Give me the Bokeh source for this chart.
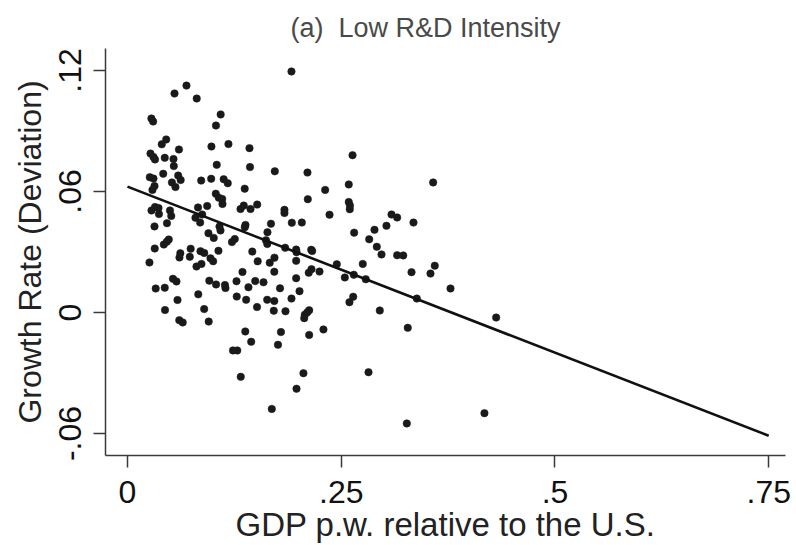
from bokeh.plotting import figure
from bokeh.models import FixedTicker, Range1d, ColumnDataSource
from bokeh.embed import file_html
from bokeh.resources import INLINE

# GDP per worker relative to the U.S. (x) and growth-rate deviation (y)
gdp_rel = [
    0.069, 0.055, 0.081, 0.028, 0.030, 0.109, 0.1035, 0.0453, 0.0401, 0.0602,
    0.0982, 0.1181, 0.1427, 0.0269, 0.0304, 0.0322, 0.0436, 0.0538, 0.0542, 0.1044,
    0.1433, 0.1723, 0.0418, 0.0261, 0.0304, 0.0593, 0.0622, 0.0520, 0.0561, 0.0316,
    0.0292, 0.0862, 0.0979, 0.1125, 0.1173, 0.1371, 0.1033, 0.1068, 0.1108, 0.1111,
    0.0281, 0.0322, 0.0363, 0.0368, 0.0497, 0.0512, 0.0825, 0.0932, 0.0795, 0.0850,
    0.0874, 0.1322, 0.1360, 0.1439, 0.1517, 0.0316, 0.0462, 0.1076, 0.1088, 0.1372,
    0.1380, 0.0947, 0.1009, 0.1255, 0.1222, 0.1678, 0.1637, 0.1620, 0.1635, 0.0319,
    0.0425, 0.0460, 0.0483, 0.0257, 0.0618, 0.0608, 0.0739, 0.0729, 0.0854, 0.0898,
    0.0971, 0.1002, 0.1064, 0.1460, 0.1523, 0.0807, 0.0865, 0.1719, 0.1664, 0.1717,
    0.1345, 0.0532, 0.0573, 0.0330, 0.0436, 0.0957, 0.1036, 0.1140, 0.1146, 0.1275,
    0.1415, 0.1494, 0.1591, 0.1784, 0.0585, 0.0828, 0.1278, 0.1388, 0.1515, 0.1634,
    0.1717, 0.1711, 0.0439, 0.0897, 0.0606, 0.0646, 0.0950, 0.1378, 0.1447, 0.1234,
    0.1284, 0.1795, 0.1760, 0.1325, 0.1688, 0.1918, 0.2632, 0.2105, 0.3575, 0.2312,
    0.2588, 0.2109, 0.2588, 0.2602, 0.2600, 0.1836, 0.1836, 0.2363, 0.1922, 0.2039,
    0.3088, 0.3154, 0.3345, 0.3029, 0.2889, 0.2651, 0.2827, 0.2916, 0.2971, 0.3154,
    0.3225, 0.1844, 0.1973, 0.1977, 0.2149, 0.2160, 0.1973, 0.2152, 0.2120, 0.2246,
    0.2448, 0.2752, 0.2542, 0.2647, 0.2787, 0.3322, 0.3594, 0.3544, 0.3778, 0.3384,
    0.4312, 0.1973, 0.2012, 0.1918, 0.2640, 0.2596, 0.1848, 0.2125, 0.2102, 0.2074,
    0.2067, 0.2951, 0.2125, 0.2292, 0.3278, 0.2058, 0.2819, 0.1977, 0.4175, 0.3267,
]
growth_dev = [
    0.1125, 0.1086, 0.1061, 0.0962, 0.0947, 0.0982, 0.0927, 0.0858, 0.0834, 0.0808,
    0.0823, 0.0835, 0.0815, 0.0788, 0.0771, 0.0759, 0.0767, 0.0761, 0.0726, 0.0732,
    0.0721, 0.0700, 0.0688, 0.0671, 0.0664, 0.0679, 0.0657, 0.0645, 0.0622, 0.0627,
    0.0608, 0.0654, 0.0663, 0.0661, 0.0641, 0.0614, 0.0589, 0.0569, 0.0563, 0.0538,
    0.0506, 0.0523, 0.0518, 0.0488, 0.0506, 0.0479, 0.0521, 0.0528, 0.0470, 0.0446,
    0.0486, 0.0513, 0.0530, 0.0513, 0.0535, 0.0427, 0.0443, 0.0426, 0.0407, 0.0423,
    0.0434, 0.0393, 0.0370, 0.0364, 0.0349, 0.0440, 0.0398, 0.0358, 0.0340, 0.0317,
    0.0337, 0.0351, 0.0362, 0.0248, 0.0294, 0.0273, 0.0316, 0.0276, 0.0304, 0.0295,
    0.0269, 0.0254, 0.0306, 0.0302, 0.0254, 0.0228, 0.0241, 0.0272, 0.0247, 0.0202,
    0.0201, 0.0167, 0.0154, 0.0119, 0.0123, 0.0158, 0.0139, 0.0136, 0.0121, 0.0155,
    0.0125, 0.0156, 0.0150, 0.0120, 0.0062, 0.0090, 0.0079, 0.0063, 0.0027, 0.0063,
    0.0057, 0.0009, 0.0012, 0.0017, -0.0038, -0.0049, -0.0045, -0.0094, -0.0145, -0.0188,
    -0.0188, -0.0097, -0.0160, -0.0319, -0.0478, 0.1195, 0.0780, 0.0694, 0.0645, 0.0608,
    0.0635, 0.0562, 0.0548, 0.0530, 0.0512, 0.0509, 0.0493, 0.0485, 0.0445, 0.0446,
    0.0486, 0.0471, 0.0446, 0.0430, 0.0410, 0.0396, 0.0363, 0.0326, 0.0288, 0.0284,
    0.0283, 0.0321, 0.0312, 0.0299, 0.0311, 0.0305, 0.0256, 0.0215, 0.0197, 0.0203,
    0.0239, 0.0241, 0.0174, 0.0187, 0.0165, 0.0200, 0.0232, 0.0193, 0.0119, 0.0069,
    -0.0025, 0.0170, 0.0106, 0.0069, 0.0078, 0.0051, 0.0006, 0.0011, 0.0000, -0.0011,
    -0.0028, 0.0010, -0.0111, -0.0084, -0.0076, -0.0301, -0.0296, -0.0378, -0.0499, -0.0550,
]

# fitted regression line end points
fit_x = [0.0, 0.75]
fit_y = [0.0624, -0.0611]

x_ticks = [0, 0.25, 0.5, 0.75]
x_tick_labels = ["0", ".25", ".5", ".75"]
y_ticks = [-0.06, 0, 0.06, 0.12]
y_tick_labels = ["-.06", "0", ".06", ".12"]

title_text = "(a)\u00a0 Low R&D Intensity"
x_label = "GDP p.w. relative to the U.S."
y_label = "Growth Rate (Deviation)"

FONT = "Liberation Sans"

p = figure(
    width=796, height=545,
    output_backend="svg", toolbar_location=None,
    x_range=Range1d(-0.0257, 0.7696), y_range=Range1d(-0.0709, 0.1309),
    min_border_left=105, min_border_right=11, min_border_top=48, min_border_bottom=90,
)
p.background_fill_color = "white"
p.border_fill_color = "white"
p.outline_line_color = None
p.xgrid.visible = False
p.ygrid.visible = False

p.title.text = title_text
p.title.text_font = FONT
p.title.text_font_size = "27px"
p.title.text_font_style = "normal"
p.title.text_color = "#4a4a4a"
p.title.align = "left"
p.title.offset = 185
p.title.standoff = 12

src = ColumnDataSource(data=dict(x=gdp_rel, y=growth_dev))
p.scatter("x", "y", source=src, size=7.5, fill_color="#1a1a1a", line_color="#1a1a1a", line_width=0.5)
p.line(fit_x, fit_y, line_color="#111111", line_width=2.6)

for ax, ticks, labels in ((p.xaxis[0], x_ticks, x_tick_labels), (p.yaxis[0], y_ticks, y_tick_labels)):
    ax.ticker = FixedTicker(ticks=ticks)
    ax.major_label_overrides = {t: l for t, l in zip(ticks, labels)}
    ax.minor_tick_line_color = None
    ax.major_tick_out = 12
    ax.major_tick_in = 0
    ax.major_tick_line_color = "#3a3a3a"
    ax.major_tick_line_width = 1.5
    ax.axis_line_color = "#3a3a3a"
    ax.axis_line_width = 1.5
    ax.major_label_text_font = FONT
    ax.major_label_text_font_size = "32px"
    ax.major_label_text_color = "#111111"
    ax.axis_label_text_font = FONT
    ax.axis_label_text_font_style = "normal"
    ax.axis_label_text_color = "#222222"

p.xaxis.axis_label = x_label
p.yaxis.axis_label = y_label
p.xaxis.axis_label_text_font_size = "33px"
p.yaxis.axis_label_text_font_size = "32px"
p.yaxis.major_label_orientation = "vertical"
p.xaxis.major_label_standoff = 13
p.xaxis.axis_label_standoff = 0
p.yaxis.major_label_standoff = 12
p.yaxis.axis_label_standoff = 9

open("out.html", "w").write(file_html(p, INLINE))
